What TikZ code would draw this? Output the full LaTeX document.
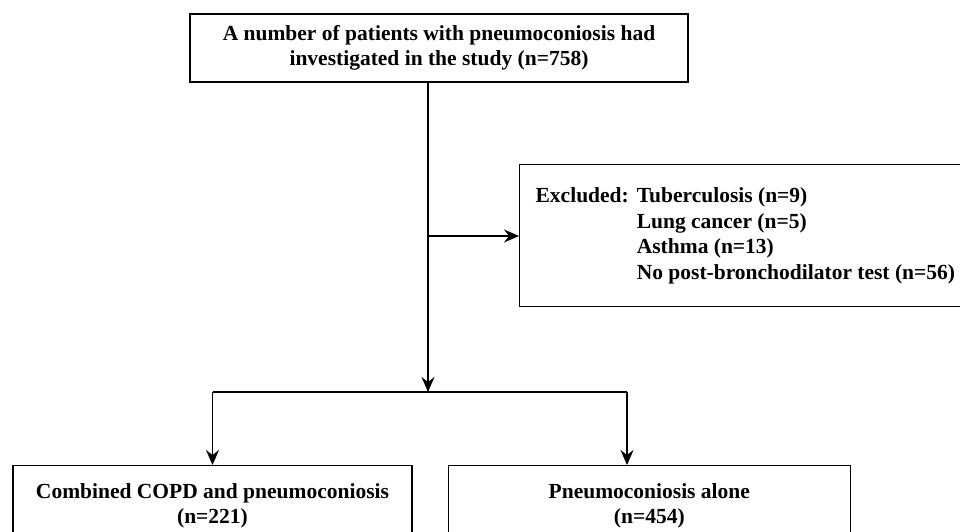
\documentclass[tikz,border=0pt]{standalone}
\usepackage{fontspec}
\setmainfont{Liberation Serif}
\usetikzlibrary{arrows.meta,positioning}

\begin{document}
\begin{tikzpicture}[
  x=1pt, y=-1pt,
  node distance=35pt,
  box/.style={draw,line width=1.3pt,inner sep=0pt,align=center,font=\bfseries\fontsize{21.5}{25.5}\selectfont},
  link/.style={line width=1.3pt},
  arrow/.style={-{Stealth[length=15pt,width=13pt,inset=5pt]},line width=1.3pt}
]
  \clip (0,0) rectangle (960,532);
  \node[box, minimum width=498pt, minimum height=68pt] (study) at (439,48) {A number of patients with pneumoconiosis had\\investigated in the study (n=758)};
  \node[box, anchor=north west, minimum height=142pt, text width=438pt, inner xsep=16pt, align=left] (excluded) at (519,164)
    {\spaceskip=0pt\xspaceskip=0pt
     \begin{tabular}{@{}l@{\hspace{8pt}}l@{}}
      Excluded: & Tuberculosis (n=9)\\
                & Lung cancer (n=5)\\
                & Asthma (n=13)\\
                & No post-bronchodilator test (n=56)
     \end{tabular}};
  \node[box, anchor=north, minimum width=399pt, minimum height=80pt] (copd) at (212.5,465) {Combined COPD and pneumoconiosis\\(n=221)};
  \node[box, minimum width=402pt, minimum height=80pt, right=35pt of copd] (alone) {Pneumoconiosis alone\\(n=454)};

  \coordinate (split) at (428,236);
  \coordinate (fork) at (428,392);
  \coordinate (forkL) at (copd.north |- fork);
  \coordinate (forkR) at (627,392);

  \draw[link] (study.south -| split) -- (split);
  \draw[arrow] (split) -- (split -| excluded.west);
  \draw[arrow] (split) -- (fork);
  \draw[link] (forkL) -- (forkR);
  \draw[arrow] (forkL) -- (copd.north);
  \draw[arrow] (forkR) -- (forkR |- alone.north);
\end{tikzpicture}
\end{document}
